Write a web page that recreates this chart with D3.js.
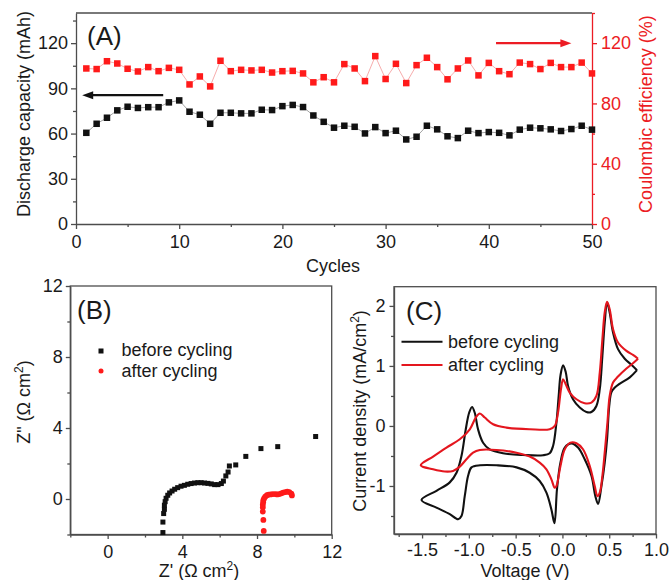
<!DOCTYPE html>
<html>
<head>
<meta charset="utf-8">
<style>
  body { margin: 0; background: #fff; }
  svg { display: block; font-family: Arial, 'Liberation Sans', sans-serif; }
</style>
</head>
<body>
<svg width="672" height="580"></svg>
<script src="https://d3js.org/d3.v7.min.js"></script>
<script>
// ---- panel A: cycling data ----
let cycles = [1, 2, 3, 4, 5, 6, 7, 8, 9, 10, 11, 12, 13, 14, 15, 16, 17, 18, 19, 20,
  21, 22, 23, 24, 25, 26, 27, 28, 29, 30, 31, 32, 33, 34, 35, 36, 37, 38, 39, 40,
  41, 42, 43, 44, 45, 46, 47, 48, 49, 50]
let capacity = [60.5, 66.5, 70.5, 75.4, 77.8, 77, 77.5, 77.5, 80.7, 82, 74.5, 72.5, 66.5, 73.8, 73.8,
  73.4, 73.4, 75.8, 75.6, 78.2, 79, 77.6, 72, 67.8, 63.9, 65.2, 64.5, 60.1, 64.3, 60.3,
  61.9, 56.1, 57.9, 65.2, 62.8, 58.2, 57, 61.9, 60.3, 61, 60.5, 58.8, 62.6, 63.9, 63.5,
  62.8, 61.7, 63, 65.2, 62.6]
let efficiency = [103.2, 102.8, 108, 106.5, 103, 101.2, 104.1, 101.4, 103.6, 102.3, 92.6, 97.9, 91.3, 108.3, 101.4,
  102.3, 101.9, 102.3, 100.5, 101.4, 101.6, 99.9, 94, 97.4, 94, 106.1, 103.2, 94.8, 111.4, 96.2,
  106.3, 93.5, 105.4, 110.3, 104.1, 96, 103.2, 108.5, 98.6, 106.9, 101.4, 99.4, 107.1, 106.1, 102.8,
  106.9, 104.1, 104.1, 107.1, 99.9]
let capTicks = [0, 30, 60, 90, 120]
let effTicks = [0, 40, 80, 120]
let cycleTicks = [0, 10, 20, 30, 40, 50]

// ---- panel B: impedance ----
let beforeRe = [2.96, 2.96, 3.0, 3.04, 3.04, 3.08, 3.13, 3.22, 3.32, 3.45, 3.59, 3.75, 3.93, 4.11, 4.29, 4.47,
  4.65, 4.83, 5.01, 5.19, 5.37, 5.55, 5.73, 5.91, 6.09, 6.2, 6.33, 6.45, 6.52, 6.86, 7.4, 8.21, 9.11, 11.14]
let beforeIm = [-1.89, -1.3, -0.82, -0.58, -0.35, -0.15, 0.04, 0.21, 0.34, 0.45, 0.55, 0.64, 0.72, 0.77, 0.83, 0.87,
  0.9, 0.92, 0.92, 0.9, 0.88, 0.85, 0.81, 0.81, 0.87, 1.01, 1.3, 1.52, 1.86, 1.92, 2.4, 2.84, 2.95, 3.52]
let afterRe = [8.36, 8.34, 8.31, 8.31, 8.31, 8.33, 8.34, 8.38, 8.44, 8.53, 8.62, 8.73, 8.85, 8.98, 9.08, 9.19,
  9.3, 9.4, 9.51, 9.62, 9.73, 9.84, 9.87]
let afterIm = [-1.8, -1.18, -0.71, -0.48, -0.32, -0.19, -0.07, 0.04, 0.13, 0.21, 0.25, 0.26, 0.28, 0.28, 0.26, 0.28,
  0.32, 0.36, 0.39, 0.41, 0.39, 0.3, 0.2]
let zTicks = [0, 4, 8, 12]

// ---- panel C: cyclic voltammetry ----
let cvBeforeV = [0.797, 0.72, 0.61, 0.56, 0.523, 0.5, 0.477, 0.452, 0.417, 0.381, 0.352, 0.31, 0.238, 0.167, 0.096, 0.025,
  -0.021, -0.058, -0.085, -0.118, -0.171, -0.243, -0.35, -0.49, -0.705, -0.88, -0.972, -1.008, -1.044, -1.079, -1.115,
  -1.204, -1.346, -1.506, -1.346, -1.204, -1.132, -1.079, -1.033, -0.997, -0.966, -0.937, -0.902, -0.848, -0.777,
  -0.635, -0.421, -0.207, -0.136, -0.1, -0.064, -0.04, -0.02, 0.007, 0.035, 0.06, 0.113, 0.185, 0.256, 0.31, 0.363,
  0.399, 0.427, 0.452, 0.477, 0.505, 0.541, 0.594, 0.666, 0.737, 0.797]
let cvBeforeI = [0.93, 0.81, 0.7, 0.64, 0.56, 0.33, -0.22, -0.61, -1.0, -1.3, -1.17, -0.83, -0.555, -0.36, -0.29, -0.36,
  -0.61, -1.05, -1.62, -1.39, -1.11, -0.917, -0.78, -0.69, -0.655, -0.655, -0.69, -0.83, -1.17, -1.5, -1.555,
  -1.47, -1.36, -1.233, -1.08, -0.94, -0.78, -0.5, -0.055, 0.22, 0.317, 0.22, -0.055, -0.28, -0.39,
  -0.455, -0.483, -0.488, -0.455, -0.333, 0.057, 0.5, 0.85, 1.01, 0.9, 0.667, 0.445, 0.307, 0.233, 0.233, 0.333,
  0.612, 1.167, 1.72, 2.057, 1.89, 1.557, 1.28, 1.12, 1.02, 0.93]
let cvAfterV = [0.808, 0.754, 0.684, 0.594, 0.541, 0.505, 0.481, 0.455, 0.427, 0.399, 0.374, 0.345, 0.292, 0.22, 0.15,
  0.085, 0.025, -0.021, -0.064, -0.082, -0.118, -0.171, -0.243, -0.349, -0.491, -0.705, -0.883, -0.955, -1.026,
  -1.097, -1.169, -1.257, -1.382, -1.514, -1.382, -1.239, -1.097, -0.99, -0.926, -0.883, -0.83, -0.741, -0.598,
  -0.349, -0.136, -0.082, -0.047, -0.015, 0.007, 0.035, 0.078, 0.15, 0.238, 0.31, 0.363, 0.399, 0.427, 0.452,
  0.477, 0.505, 0.541, 0.594, 0.684, 0.754, 0.808]
let cvAfterI = [1.12, 1.045, 0.957, 0.823, 0.723, 0.5, 0.057, -0.388, -0.833, -1.11, -1.17, -1.0, -0.667, -0.388, -0.288,
  -0.278, -0.388, -0.667, -1.0, -1.03, -0.89, -0.722, -0.61, -0.51, -0.445, -0.4, -0.4, -0.445, -0.555,
  -0.677, -0.75, -0.76, -0.722, -0.655, -0.51, -0.36, -0.222, -0.055, 0.14, 0.207, 0.14, 0.028, -0.028,
  -0.055, -0.055, 0, 0.222, 0.62, 0.778, 0.695, 0.557, 0.445, 0.378, 0.39, 0.5, 0.89, 1.445, 1.89,
  2.067, 1.945, 1.612, 1.39, 1.25, 1.183, 1.12]
let voltTicks = [-1.5, -1.0, -0.5, 0.0, 0.5, 1.0]
let currTicks = [-1, 0, 1, 2]

let svg = d3.select("svg")
let ink = "#1a1a1a"
let axisInk = "#4d4d4d"
let red = "#ec1c24"
let fs = 18

function styleAxis(g, color, textColor) {
  g.selectAll("path, line").attr("stroke", color).attr("stroke-width", 1.3)
  g.selectAll("text").attr("fill", textColor).style("font-size", fs + "px")
    .style("font-family", "Arial, 'Liberation Sans', sans-serif")
}

function minor(g, gen, color) {
  g.call(gen)
  g.select(".domain").remove()
  g.selectAll("line").attr("stroke", color).attr("stroke-width", 1.3)
}

function vlabel(x, y, parts, color) {
  let t = svg.append("text")
    .attr("transform", "translate(" + x + "," + y + ") rotate(-90)")
    .attr("text-anchor", "middle")
    .attr("fill", color)
    .style("font-size", fs + "px")
  addParts(t, parts)
}

function hlabel(x, y, parts) {
  let t = svg.append("text")
    .attr("x", x).attr("y", y)
    .attr("text-anchor", "middle")
    .attr("fill", ink)
    .style("font-size", fs + "px")
  addParts(t, parts)
}

// parts: plain strings, or {sup: "2"}
function addParts(t, parts) {
  parts.forEach(p => {
    if (typeof p === "string") {
      t.append("tspan").text(p)
    } else {
      t.append("tspan").attr("baseline-shift", "super").style("font-size", "12px").text(p.sup)
    }
  })
}

// ================= Panel A =================
let ax = d3.scaleLinear().domain([0, 50]).range([76, 592])
let ayL = d3.scaleLinear().domain([0, 140]).range([224, 13])
let ayR = d3.scaleLinear().domain([0, 140]).range([224, 13])

svg.append("line").attr("x1", 76).attr("x2", 592).attr("y1", 13).attr("y2", 13)
  .attr("stroke", axisInk).attr("stroke-width", 1.3)

minor(svg.append("g").attr("transform", "translate(0,224)"),
  d3.axisBottom(ax).tickValues([5, 15, 25, 35, 45]).tickSize(3).tickFormat(""), axisInk)
minor(svg.append("g").attr("transform", "translate(76,0)"),
  d3.axisLeft(ayL).tickValues([15, 45, 75, 105, 135]).tickSize(3).tickFormat(""), axisInk)
minor(svg.append("g").attr("transform", "translate(592,0)"),
  d3.axisRight(ayR).tickValues([20, 60, 100, 140]).tickSize(3).tickFormat(""), red)

let gAx = svg.append("g").attr("transform", "translate(0,224)")
  .call(d3.axisBottom(ax).tickValues(cycleTicks).tickSize(5).tickSizeOuter(0).tickPadding(6))
styleAxis(gAx, axisInk, ink)
let gAyL = svg.append("g").attr("transform", "translate(76,0)")
  .call(d3.axisLeft(ayL).tickValues(capTicks).tickSize(5).tickSizeOuter(0).tickPadding(3))
styleAxis(gAyL, axisInk, ink)
let gAyR = svg.append("g").attr("transform", "translate(592,0)")
  .call(d3.axisRight(ayR).tickValues(effTicks).tickSize(5).tickSizeOuter(0).tickPadding(4))
styleAxis(gAyR, red, red)

let capLine = d3.line().x((d, i) => ax(cycles[i])).y(d => ayL(d))
let effLine = d3.line().x((d, i) => ax(cycles[i])).y(d => ayR(d))

svg.append("path").attr("d", effLine(efficiency)).attr("fill", "none")
  .attr("stroke", "#f5a3a3").attr("stroke-width", 0.9)
svg.append("path").attr("d", capLine(capacity)).attr("fill", "none")
  .attr("stroke", "#9a9a9a").attr("stroke-width", 0.9)

let sq = 6.5
svg.append("g").selectAll("rect").data(efficiency).join("rect")
  .attr("x", (d, i) => ax(cycles[i]) - sq / 2)
  .attr("y", d => ayR(d) - sq / 2)
  .attr("width", sq).attr("height", sq)
  .attr("fill", "#ff1a1a")
svg.append("g").selectAll("rect").data(capacity).join("rect")
  .attr("x", (d, i) => ax(cycles[i]) - sq / 2)
  .attr("y", d => ayL(d) - sq / 2)
  .attr("width", sq).attr("height", sq)
  .attr("fill", "#111")

// arrows pointing at the matching axis
function arrow(x1, x2, y, color) {
  let dir = x2 > x1 ? 1 : -1
  svg.append("line").attr("x1", x1).attr("x2", x2 - dir * 8).attr("y1", y).attr("y2", y)
    .attr("stroke", color).attr("stroke-width", 2.2)
  svg.append("path")
    .attr("d", "M" + x2 + "," + y + "L" + (x2 - dir * 11) + "," + (y - 4) + "L" + (x2 - dir * 11) + "," + (y + 4) + "Z")
    .attr("fill", color)
}
arrow(ax(8.45), ax(0.6), ayL(85.5), "#111")
arrow(ax(40.7), ax(48), ayR(120), red)

svg.append("text").attr("x", 87).attr("y", 45).attr("fill", ink)
  .style("font-size", "26px").text("(A)")

vlabel(30, 114, ["Discharge capacity (mAh)"], ink)
vlabel(652, 114, ["Coulombic efficiency (%)"], red)
hlabel(333, 271.5, ["Cycles"])

// ================= Panel B =================
let bx = d3.scaleLinear().domain([-2, 12]).range([70.3, 331.7])
let by = d3.scaleLinear().domain([-2, 12]).range([534.5, 286])

svg.append("rect").attr("x", 70.3).attr("y", 286).attr("width", 331.7 - 70.3).attr("height", 534.5 - 286)
  .attr("fill", "none").attr("stroke", axisInk).attr("stroke-width", 1.3)

minor(svg.append("g").attr("transform", "translate(0,534.5)"),
  d3.axisBottom(bx).tickValues([-2, 2, 6, 10]).tickSize(3).tickFormat(""), axisInk)
minor(svg.append("g").attr("transform", "translate(70.3,0)"),
  d3.axisLeft(by).tickValues([-2, 2, 6, 10]).tickSize(3).tickFormat(""), axisInk)

let gBx = svg.append("g").attr("transform", "translate(0,534.5)")
  .call(d3.axisBottom(bx).tickValues(zTicks).tickSize(4.5).tickSizeOuter(0).tickPadding(6))
styleAxis(gBx, axisInk, ink)
let gBy = svg.append("g").attr("transform", "translate(70.3,0)")
  .call(d3.axisLeft(by).tickValues(zTicks).tickSize(4.5).tickSizeOuter(0).tickPadding(3))
styleAxis(gBy, axisInk, ink)

svg.append("g").selectAll("circle").data(afterRe).join("circle")
  .attr("cx", d => bx(d))
  .attr("cy", (d, i) => by(afterIm[i]))
  .attr("r", 2.9)
  .attr("fill", "#ff1a1a")
let bsq = 5
svg.append("g").selectAll("rect").data(beforeRe).join("rect")
  .attr("x", d => bx(d) - bsq / 2)
  .attr("y", (d, i) => by(beforeIm[i]) - bsq / 2)
  .attr("width", bsq).attr("height", bsq)
  .attr("fill", "#111")

svg.append("text").attr("x", 77).attr("y", 318.5).attr("fill", ink)
  .style("font-size", "26px").text("(B)")

// legend B
svg.append("rect").attr("x", 98.5).attr("y", 348.5).attr("width", 5).attr("height", 5).attr("fill", "#111")
svg.append("text").attr("x", 121.5).attr("y", 356).attr("fill", ink).style("font-size", fs + "px").text("before cycling")
svg.append("circle").attr("cx", 101).attr("cy", 371).attr("r", 2.5).attr("fill", "#ff1a1a")
svg.append("text").attr("x", 121.5).attr("y", 376.5).attr("fill", ink).style("font-size", fs + "px").text("after cycling")

vlabel(30, 402, ["Z\" (\u03A9 cm", { sup: "2" }, ")"], ink)
hlabel(199, 577, ["Z' (\u03A9 cm", { sup: "2" }, ")"])

// ================= Panel C =================
let cx = d3.scaleLinear().domain([-1.8, 1.0]).range([394, 656])
let cy = d3.scaleLinear().domain([-1.8, 2.32]).range([534, 286.7])

svg.append("rect").attr("x", 394).attr("y", 286.7).attr("width", 656 - 394).attr("height", 534 - 286.7)
  .attr("fill", "none").attr("stroke", axisInk).attr("stroke-width", 1.3)

minor(svg.append("g").attr("transform", "translate(0,534)"),
  d3.axisBottom(cx).tickValues([-1.75, -1.25, -0.75, -0.25, 0.25, 0.75]).tickSize(3).tickFormat(""), axisInk)
minor(svg.append("g").attr("transform", "translate(394,0)"),
  d3.axisLeft(cy).tickValues([-1.5, -0.5, 0.5, 1.5]).tickSize(3).tickFormat(""), axisInk)

let gCx = svg.append("g").attr("transform", "translate(0,534)")
  .call(d3.axisBottom(cx).tickValues(voltTicks).tickSize(4.5).tickSizeOuter(0).tickPadding(5)
    .tickFormat(d3.format(".1f")))
styleAxis(gCx, axisInk, ink)
gCx.selectAll("text").text(d => d3.format(".1f")(d).replace("\u2212", "-"))
let gCy = svg.append("g").attr("transform", "translate(394,0)")
  .call(d3.axisLeft(cy).tickValues(currTicks).tickSize(4.5).tickSizeOuter(0).tickPadding(4))
styleAxis(gCy, axisInk, ink)
gCy.selectAll("text").text(d => String(d))

let cvLine = d3.line().curve(d3.curveCatmullRom.alpha(0.5))
let beforePts = cvBeforeV.map((v, i) => [cx(v), cy(cvBeforeI[i])])
let afterPts = cvAfterV.map((v, i) => [cx(v), cy(cvAfterI[i])])

svg.append("path").attr("d", cvLine(beforePts)).attr("fill", "none")
  .attr("stroke", "#111").attr("stroke-width", 2.1).attr("stroke-linejoin", "round")
svg.append("path").attr("d", cvLine(afterPts)).attr("fill", "none")
  .attr("stroke", "#e4161e").attr("stroke-width", 2.1).attr("stroke-linejoin", "round")

svg.append("text").attr("x", 406).attr("y", 320).attr("fill", ink)
  .style("font-size", "26px").text("(C)")

// legend C
svg.append("line").attr("x1", 401.5).attr("x2", 442.5).attr("y1", 341.7).attr("y2", 341.7)
  .attr("stroke", "#111").attr("stroke-width", 2.1)
svg.append("text").attr("x", 448).attr("y", 347.5).attr("fill", ink).style("font-size", fs + "px").text("before cycling")
svg.append("line").attr("x1", 401.5).attr("x2", 442.5).attr("y1", 365).attr("y2", 365)
  .attr("stroke", "#e4161e").attr("stroke-width", 2.1)
svg.append("text").attr("x", 448).attr("y", 370.5).attr("fill", ink).style("font-size", fs + "px").text("after cycling")

vlabel(366, 411, ["Current density (mA/cm", { sup: "2" }, ")"], ink)
hlabel(525, 577, ["Voltage (V)"])
</script>
</body>
</html>
